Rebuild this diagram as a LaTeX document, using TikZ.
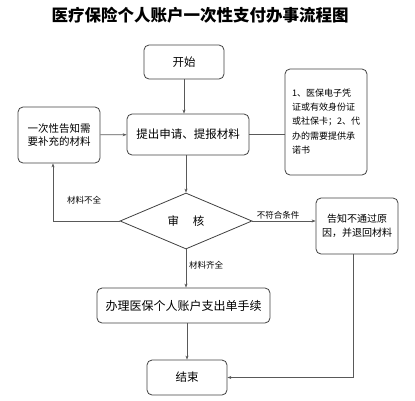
\documentclass[tikz,border=0pt]{standalone}
\usepackage{fontspec}
\setmainfont{Noto Sans CJK SC}
\usetikzlibrary{shapes.geometric,arrows.meta}
\def\fs#1{\fontsize{#1}{#1}\selectfont}
\tikzset{
  box/.style={draw=black!75, line width=0.8pt, rounded corners=5pt, align=center, inner sep=0pt},
  arr/.style={draw=black!65, line width=0.7pt, -{Stealth[length=4pt,width=3pt]}},
  ln/.style={draw=black!65, line width=0.7pt},
  lab/.style={font=\fs{8.5}, inner sep=1pt}
}

\begin{document}
\begin{tikzpicture}[x=1pt,y=-1pt]
    \useasboundingbox (0,0) rectangle (415,400);
    \node[font=\fs{16.5}\bfseries] (title) at (200,15) {医疗保险个人账户一次性支付办事流程图};

    \node[box, minimum width=80, minimum height=34, font=\fs{11.5}] (start) at (184,62) {开始};
    \node[box, minimum width=122, minimum height=41, font=\fs{11.5}] (apply) at (188,134.5) {提出申请、提报材料};
    \node[box, minimum width=82, minimum height=56, font=\fs{10.5}] (supp) at (59,135) {一次性告知需\\[3pt]要补充的材料};
    \node[box, align=left, minimum width=82, minimum height=106, font=\fs{9}] (info) at (326,122)
        {1、医保电子凭\\[5pt]证或有效身份证\\[5pt]或社保卡；2、代\\[5pt]办的需要提供承\\[5pt]诺书};
    \node[draw=black!75, line width=0.8pt, diamond, minimum width=132, minimum height=56, inner sep=0pt, font=\fs{11.5}] (check) at (186,221) {审\hspace{1.2em}核};
    \node[box, minimum width=82, minimum height=56, font=\fs{10}] (back) at (357,226) {告知不通过原\\[4pt]因，并退回材料};
    \node[box, minimum width=173, minimum height=35, font=\fs{12}] (handle) at (183.5,305.5) {办理医保个人账户支出单手续};
    \node[box, minimum width=80, minimum height=35, font=\fs{11.5}] (end) at (187,377.5) {结束};

    \draw[arr] (start) -- (start |- apply.north);
    \draw[arr] (supp) -- (apply);
    \draw[ln] (apply.east) -- (apply.east -| info.west);
    \draw[arr] (apply.south -| check.north) -- (check.north);
    \draw[arr] (check.west) -| ([xshift=-6pt]supp.south);
    \draw[arr] (check.east) -- (check.east -| back.west);
    \draw[arr] (check.south) -- (check.south |- handle.north);
    \draw[arr] (handle.south -| end.north) -- (end.north);
    \draw[arr] ([xshift=-4pt]back.south) |- (end.east);

    \node[lab] (lack) at (84,200) {材料不全};
    \node[lab] (fail) at (278,215) {不符合条件};
    \node[lab] (full) at (206,265) {材料齐全};
\end{tikzpicture}
\end{document}
